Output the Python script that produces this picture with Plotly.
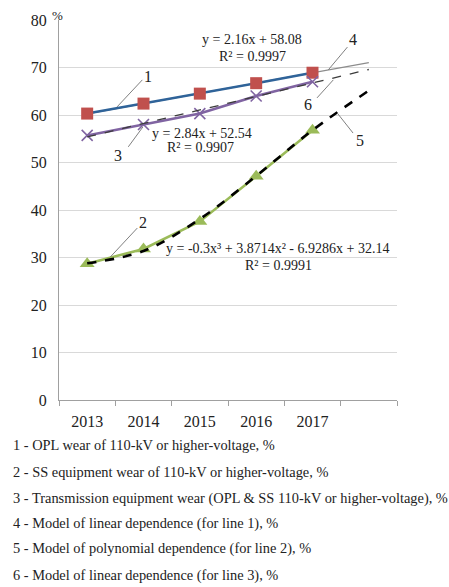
import plotly.graph_objects as go

years = [2013, 2014, 2015, 2016, 2017]
trend_years = [2013, 2014, 2015, 2016, 2017, 2018]
tick_labels = ["2013", "2014", "2015", "2016", "2017"]

opl_wear = [60.3, 62.4, 64.5, 66.7, 68.9]          # line 1
ss_wear = [28.7, 31.8, 37.6, 47.1, 56.8]           # line 2
trans_wear = [55.7, 58.0, 60.3, 64.0, 67.0]        # line 3
trend_lin1 = [60.24, 62.40, 64.56, 66.72, 68.88, 71.04]   # line 4
trend_poly2 = [28.78, 31.37, 38.11, 47.17, 56.79, 65.14]  # line 5
trend_lin3 = [55.38, 58.22, 61.06, 63.90, 66.74, 69.58]   # line 6

legend_lines = [
    "1 - OPL wear of 110-kV or higher-voltage, %",
    "2 - SS equipment wear of 110-kV or higher-voltage, %",
    "3 - Transmission equipment wear (OPL & SS 110-kV or higher-voltage), %",
    "4 - Model of linear dependence (for line 1), %",
    "5 - Model of polynomial dependence (for line 2), %",
    "6 - Model of linear dependence (for line 3), %",
]

FONT = "Liberation Serif, Times New Roman, serif"
W, H = 449, 587
ML, MR, MT, MB = 59, 52, 20, 187
PW, PH = W - ML - MR, H - MT - MB

fig = go.Figure()

fig.add_trace(go.Scatter(x=trend_years, y=trend_lin1, mode="lines",
                         line=dict(color="#8c8c8c", width=1.2), showlegend=False))
fig.add_trace(go.Scatter(x=years, y=opl_wear, mode="lines+markers",
                         line=dict(color="#2f6399", width=2.6),
                         marker=dict(symbol="square", size=12, color="#c0504d"),
                         showlegend=False))
fig.add_trace(go.Scatter(x=years, y=trans_wear, mode="lines+markers",
                         line=dict(color="#8064a2", width=2.6),
                         marker=dict(symbol="x-thin-open", size=11,
                                     line=dict(color="#8064a2", width=1.6)),
                         showlegend=False))
fig.add_trace(go.Scatter(x=trend_years, y=trend_lin3, mode="lines",
                         line=dict(color="#3c3c3c", width=1.3, dash="dash"),
                         showlegend=False))
fig.add_trace(go.Scatter(x=years, y=ss_wear, mode="lines+markers",
                         line=dict(color="#9bbb59", width=2.6),
                         marker=dict(symbol="triangle-up", size=13, color="#9bbb59"),
                         showlegend=False))
fig.add_trace(go.Scatter(x=trend_years, y=trend_poly2, mode="lines",
                         line=dict(color="#000000", width=2.6, dash="dash", shape="spline"),
                         showlegend=False))

anns = []
def txt(x, y, t, size=14, xref="x", yref="y", xanchor="center"):
    anns.append(dict(x=x, y=y, xref=xref, yref=yref, text=t, showarrow=False,
                     xanchor=xanchor, yanchor="middle",
                     font=dict(family=FONT, size=size, color="#222222")))

txt(2015.93, 75.8, "y = 2.16x + 58.08")
txt(2015.93, 72.4, "R² = 0.9997")
txt(2015.04, 56.2, "y = 2.84x + 52.54")
txt(2015.02, 53.1, "R² = 0.9907")
txt(2016.37, 32.0, "y = -0.3x³ + 3.8714x² - 6.9286x + 32.14")
txt(2016.39, 28.4, "R² = 0.9991")

txt(2014.08, 68.2, "1", size=16)
txt(2013.99, 37.3, "2", size=16)
txt(2013.55, 51.4, "3", size=16)
txt(2017.72, 75.8, "4", size=16)
txt(2017.85, 54.7, "5", size=16)
txt(2016.92, 62.3, "6", size=16)

txt((50 - ML) / PW, (H - MB - 15) / PH, "%", size=13, xref="paper", yref="paper",
    xanchor="left")

legend_y = [445, 472, 498, 523, 548, 575]
for ly, t in zip(legend_y, legend_lines):
    anns.append(dict(x=(11 - ML) / PW, y=(H - MB - ly) / PH, xref="paper", yref="paper",
                     text=t, showarrow=False, xanchor="left", yanchor="middle",
                     font=dict(family=FONT, size=14.4, color="#222222")))

# leader lines
leaders = [
    (2013.53, 61.7, 2013.98, 67.4),
    (2013.41, 30.1, 2013.89, 36.2),
    (2013.73, 53.3, 2013.99, 57.5),
    (2017.28, 69.5, 2017.62, 74.3),
    (2017.44, 60.4, 2017.72, 56.2),
    (2017.08, 63.6, 2017.37, 67.4),
]
shapes = [dict(type="line", xref="x", yref="y", x0=a, y0=b, x1=c, y1=d,
               line=dict(color="#808080", width=1)) for a, b, c, d in leaders]

fig.update_layout(
    width=W, height=H,
    margin=dict(l=ML, r=MR, t=MT, b=MB),
    paper_bgcolor="white", plot_bgcolor="white",
    annotations=anns, shapes=shapes,
    font=dict(family=FONT, size=16, color="#222222"),
    xaxis=dict(range=[2012.5, 2018.5], tickvals=years, ticktext=tick_labels,
               ticks="", showgrid=False, zeroline=False,
               showline=True, linecolor="#a0a0a0", linewidth=1,
               ticklabelstandoff=7,
               tickfont=dict(family=FONT, size=16, color="#222222"),
               minor=dict(tick0=2012.5, dtick=1, ticks="outside", ticklen=5,
                          tickcolor="#a0a0a0", showgrid=False),
               fixedrange=True),
    yaxis=dict(range=[0, 80], dtick=10, showgrid=True, gridcolor="#d9d9d9",
               gridwidth=1, zeroline=False, showline=True, linecolor="#a0a0a0",
               linewidth=1, ticks="", ticklabelstandoff=8,
               tickfont=dict(family=FONT, size=16, color="#222222"),
               fixedrange=True),
)

fig.write_html("out.html", config={"displayModeBar": False},
               post_script="document.body.style.margin='0';")
